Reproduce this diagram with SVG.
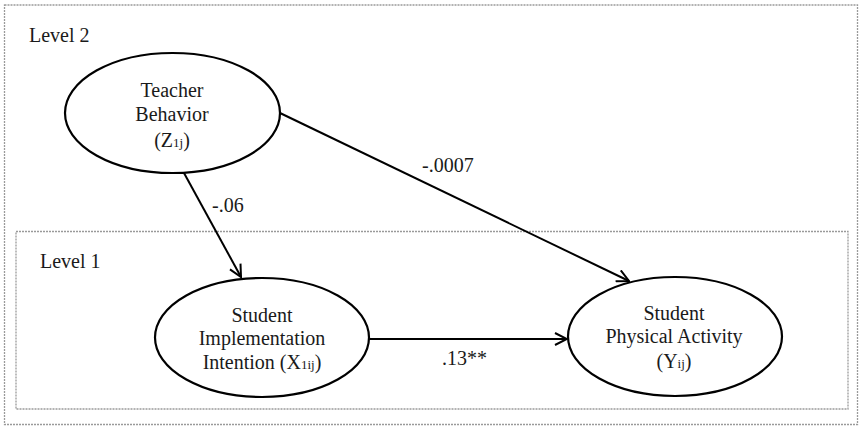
<svg xmlns="http://www.w3.org/2000/svg" width="859" height="426" viewBox="0 0 859 426">
<style>
.frame{fill:none;stroke:#9a9a9a;stroke-width:1.3;stroke-dasharray:2 1}
.node{fill:#fff;stroke:#000;stroke-width:2.2}
.t{font-family:"Liberation Serif","Times New Roman",serif;font-size:20px;fill:#1a1a1a}
.c{text-anchor:middle}
.sub{font-size:13px}
.edge{fill:none;stroke:#000;stroke-width:2}
</style>
<defs>
<marker id="arr" viewBox="0 0 14 14" refX="13" refY="7" markerWidth="14" markerHeight="14" markerUnits="userSpaceOnUse" orient="auto">
<path d="M1,1 L13,7 L1,13" fill="none" stroke="#000" stroke-width="2"/>
</marker>
</defs>
<rect class="frame" x="4.5" y="5" width="853" height="419.5"/>
<rect class="frame" x="16" y="231.5" width="832" height="177.5"/>
<text class="t" x="29" y="42">Level 2</text>
<text class="t" x="40" y="268">Level 1</text>
<g id="connectors">
<line class="edge" x1="184" y1="173" x2="241" y2="277" marker-end="url(#arr)"/>
<line class="edge" x1="280" y1="113" x2="629" y2="281" marker-end="url(#arr)"/>
<line class="edge" x1="369" y1="339" x2="567" y2="339" marker-end="url(#arr)"/>
<text class="t" x="212" y="212">-.06</text>
<text class="t" x="422" y="172">-.0007</text>
<text class="t" x="442" y="365">.13**</text>
</g>
<g id="teacher">
<ellipse class="node" cx="172.5" cy="113" rx="107.5" ry="60"/>
<text class="t c" x="172" y="97">Teacher</text>
<text class="t c" x="172" y="121">Behavior</text>
<text class="t c" x="172" y="147">(Z<tspan class="sub">1j</tspan>)</text>
</g>
<g id="sii">
<ellipse class="node" cx="262" cy="337.5" rx="107" ry="59.5"/>
<text class="t c" x="262" y="322">Student</text>
<text class="t c" x="262" y="345">Implementation</text>
<text class="t c" x="262" y="369">Intention (X<tspan class="sub">1ij</tspan>)</text>
</g>
<g id="spa">
<ellipse class="node" cx="675" cy="336.5" rx="107" ry="59.5"/>
<text class="t c" x="674" y="320">Student</text>
<text class="t c" x="674" y="343">Physical Activity</text>
<text class="t c" x="674" y="368">(Y<tspan class="sub">ij</tspan>)</text>
</g>
</svg>
